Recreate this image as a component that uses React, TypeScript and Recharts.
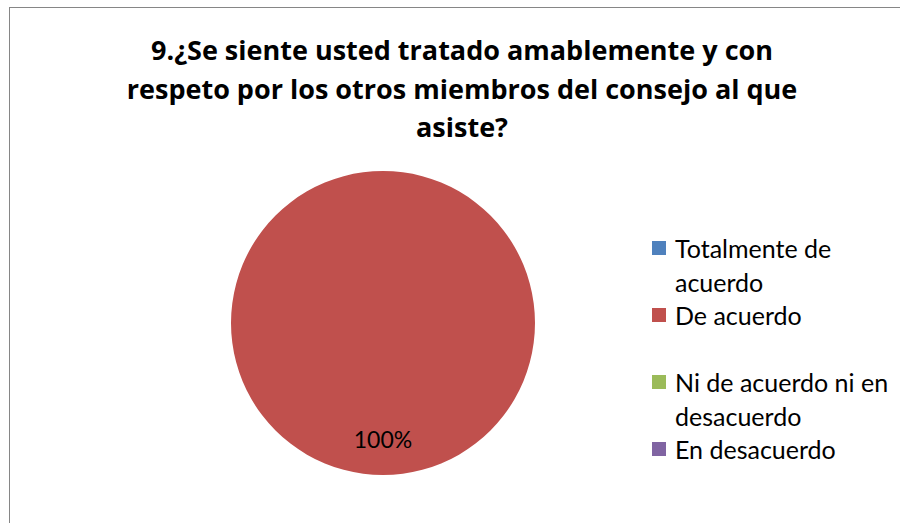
import { Cell, Legend, Pie, PieChart } from 'recharts'

const CATEGORIES = [
  'Totalmente de acuerdo',
  'De acuerdo',
  'Ni de acuerdo ni en desacuerdo',
  'En desacuerdo',
]
const VALUES = [0, 100, 0, 0]
const COLORS = ['#4F81BD', '#C0504D', '#9BBB59', '#8064A2']
const TITLE_LINES = [
  '9.¿Se siente usted tratado amablemente y con',
  'respeto por los otros miembros del consejo al que',
  'asiste?',
]

const FONT = 'Lato, "Open Sans", sans-serif'
const TITLE_FONT = '"Open Sans", Lato, sans-serif'

const data = CATEGORIES.map((name, i) => ({ name, value: VALUES[i] }))
const total = VALUES.reduce((a, b) => a + b, 0)

const RAD = Math.PI / 180

function renderLabel(props: any) {
  const { cx, cy, midAngle, outerRadius, value } = props
  if (!value) return null
  const r = outerRadius * 0.76
  const x = cx + r * Math.cos(-midAngle * RAD)
  const y = cy + r * Math.sin(-midAngle * RAD)
  return (
    <text
      x={x}
      y={y}
      textAnchor="middle"
      dominantBaseline="central"
      fill="#000"
      fontSize={23}
      fontFamily={FONT}
    >
      {`${Math.round((value / total) * 100)}%`}
    </text>
  )
}

function LegendBox() {
  return (
    <div style={{ fontFamily: FONT, fontSize: 25, color: '#000' }}>
      {CATEGORIES.map((name, i) => (
        <div key={name} style={{ height: 67, display: 'flex', alignItems: 'flex-start' }}>
          <div
            style={{
              width: 14,
              height: 14,
              background: COLORS[i],
              marginTop: 10,
              marginRight: 9,
              flexShrink: 0,
            }}
          />
          <div style={{ width: 222, lineHeight: '34px', whiteSpace: 'normal' }}>{name}</div>
        </div>
      ))}
    </div>
  )
}

export default function App() {
  return (
    <div
      style={{
        position: 'absolute',
        left: 0,
        top: 0,
        width: 900,
        height: 523,
        overflow: 'hidden',
        background: '#fff',
      }}
    >
      <div
        style={{
          position: 'absolute',
          left: 9,
          top: 7,
          width: 920,
          height: 540,
          border: '1px solid #868686',
        }}
      />
      <div
        style={{
          position: 'absolute',
          left: 62,
          top: 31,
          width: 800,
          textAlign: 'center',
          fontFamily: TITLE_FONT,
          fontWeight: 700,
          fontSize: 27,
          lineHeight: '38.5px',
          color: '#000',
        }}
      >
        {TITLE_LINES.map((l) => (
          <div key={l}>{l}</div>
        ))}
      </div>
      <div style={{ position: 'absolute', left: 0, top: 0 }}>
        <PieChart width={900} height={523} margin={{ top: 0, right: 0, bottom: 0, left: 0 }}>
          <Pie
            data={data}
            dataKey="value"
            nameKey="name"
            cx={383}
            cy={323}
            outerRadius={152}
            startAngle={90}
            endAngle={-270}
            stroke="none"
            label={renderLabel}
            labelLine={false}
            isAnimationActive={false}
          >
            {data.map((d, i) => (
              <Cell key={d.name} fill={COLORS[i]} />
            ))}
          </Pie>
          <Legend
            content={() => <LegendBox />}
            wrapperStyle={{ left: 652, top: 231, width: 250 }}
          />
        </PieChart>
      </div>
    </div>
  )
}
